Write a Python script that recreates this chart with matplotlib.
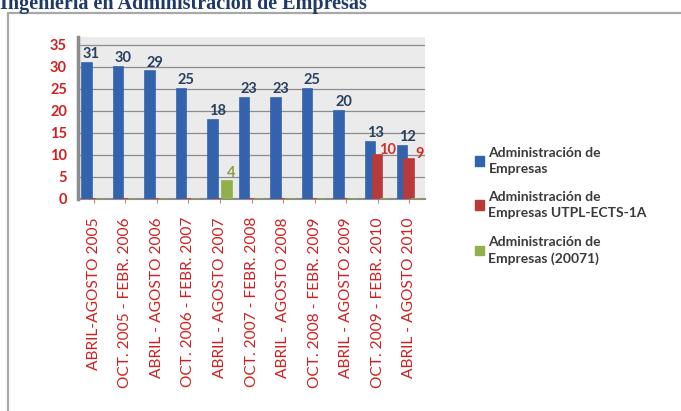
import matplotlib
matplotlib.use("Agg")
import matplotlib.pyplot as plt
from matplotlib import patches
import numpy as np

# ---------------------------------
periodos = ["ABRIL-AGOSTO 2005", "OCT. 2005 - FEBR. 2006", "ABRIL - AGOSTO 2006",
            "OCT. 2006 - FEBR. 2007", "ABRIL - AGOSTO 2007", "OCT. 2007 - FEBR. 2008",
            "ABRIL - AGOSTO 2008", "OCT. 2008 - FEBR. 2009", "ABRIL - AGOSTO 2009",
            "OCT. 2009 - FEBR. 2010", "ABRIL - AGOSTO 2010"]
admin = [31, 30, 29, 25, 18, 23, 23, 25, 20, 13, 12]
admin_ects = [0, 0, 0, 0, 0, 0, 0, 0, 0, 10, 9]
admin_20071 = [0, 0, 0, 0, 4, 0, 0, 0, 0, 0, 0]
series_names = ["Administración de\nEmpresas",
                "Administración de\nEmpresas UTPL-ECTS-1A",
                "Administración de\nEmpresas (20071)"]
yticks = [0, 5, 10, 15, 20, 25, 30, 35]
titulo = "Ingeniería en Administración de Empresas"
# ---------------------------------

W, H = 681, 411
fig = plt.figure(figsize=(W / 100, H / 100), dpi=100)
fig.patch.set_facecolor("white")

# chart frame
fig.add_artist(patches.Rectangle((8 / W, -0.05), 1.0, 1 - 13 / H + 0.05,
                                 transform=fig.transFigure, fill=False,
                                 ec="#a8a8a8", lw=1.6))

fig.text(0.0, 1 - 9 / H, titulo, family="Liberation Serif", weight="bold",
         fontsize=14.5, color="#1f3a68", va="baseline", ha="left")

ax = fig.add_axes([78 / W, 1 - 199 / H, (425 - 78) / W, (199 - 37) / H])
ax.set_facecolor("#ebebeb")

x = np.arange(len(periodos))
w = 0.3
colors = ["#3363ad", "#b93a3a", "#8fb04a"]
offs = [-0.22, 0.0, 0.22]
data = [admin, admin_ects, admin_20071]
for vals, c, o in zip(data, colors, offs):
    ax.bar(x + o, vals, w, color=c, edgecolor=c, lw=1.2, zorder=3)

lab_colors = ["#2a3f5f", "#d03030", "#8aa040"]
for vals, c, o in zip(data, lab_colors, offs):
    for xi, v in zip(x, vals):
        if v > 0:
            if c == "#d03030":
                ax.text(xi + o + 0.32, v - 0.4, str(v), color=c, fontsize=10.5,
                        ha="center", va="bottom", family="Lato", weight="bold")
            else:
                ax.text(xi + o + 0.15, v + 0.4, str(v), color=c, fontsize=10.5,
                        ha="center", va="bottom", family="Lato", weight="bold")

ax.set_xlim(-0.5, len(periodos) - 0.5)
ax.set_ylim(0, 36.8)
ax.set_yticks(yticks)
ax.set_yticklabels([str(t) for t in yticks], color="#d02020", fontsize=10.5,
                   family="Lato", weight="bold")
ax.set_xticks(x)
ax.set_xticklabels(periodos, rotation=90, color="#d02020", fontsize=11.2,
                   family="Lato")
ax.tick_params(axis="y", length=0, pad=8)
ax.tick_params(axis="x", length=3, color="#999999", pad=10)
ax.yaxis.grid(True, color="#8c8c8c", lw=0.9, zorder=0)
ax.set_axisbelow(True)
for s in ["top", "right"]:
    ax.spines[s].set_visible(False)
ax.spines["left"].set_color("#8c8c8c")
ax.spines["left"].set_linewidth(2.5)
ax.spines["bottom"].set_color("#8c8c8c")
ax.spines["bottom"].set_linewidth(1.5)

handles = [patches.Patch(color=c) for c in colors]
leg = fig.legend(handles, series_names, loc="upper left",
                 bbox_to_anchor=(462 / W, 1 - 134 / H), frameon=False,
                 prop={"family": "Lato", "weight": "bold", "size": 10},
                 labelcolor="#3a3a3a", handlelength=0.7, handleheight=0.7,
                 handletextpad=0.3, labelspacing=1.2)
for t in leg.get_texts():
    t.set_linespacing(1.4)

fig.savefig("out.png", dpi=100)
